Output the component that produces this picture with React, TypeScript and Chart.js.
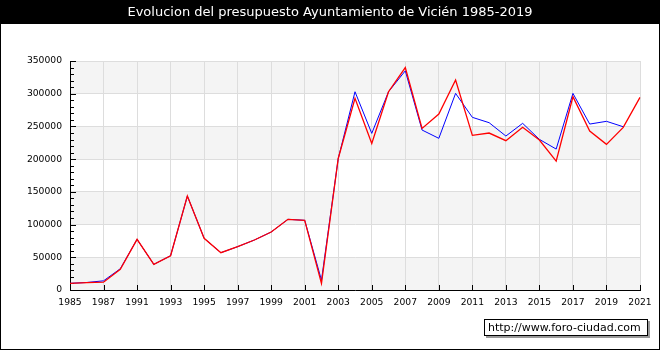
import React, { useEffect, useRef } from 'react';
import { Chart, registerables } from 'chart.js';

Chart.register(...registerables);

const TITLE = 'Evolucion del presupuesto Ayuntamiento de Vicién 1985-2019';
const WATERMARK = 'http://www.foro-ciudad.com';

const years = [
  '1985', '1986', '1987', '1989', '1991', '1992', '1993', '1994', '1995', '1996',
  '1997', '1998', '1999', '2000', '2001', '2002', '2003', '2004', '2005', '2006',
  '2007', '2008', '2009', '2010', '2011', '2012', '2013', '2014', '2015', '2016',
  '2017', '2018', '2019', '2020', '2021',
];

const seriesRed = [
  10200, 11200, 12000, 31600, 77400, 39200, 52400, 143600, 79000, 57000,
  66200, 76400, 88600, 108000, 106500, 10200, 201000, 293000, 224000, 303000,
  340000, 247000, 269000, 321000, 236400, 239900, 228200, 248600, 229200, 197100,
  295400, 243000, 222600, 248600, 294400,
];

const seriesBlue = [
  10200, 11500, 14000, 32500, 77400, 39200, 52400, 143600, 79000, 57000,
  66200, 76400, 88600, 108000, 106500, 15000, 201000, 303000, 239400, 303000,
  335000, 244500, 231800, 300500, 263900, 255700, 235300, 254700, 230200, 215400,
  300500, 253600, 257800, 249500, null,
];

const Y_MIN = 0;
const Y_MAX = 350000;
const Y_STEP = 50000;
const Y_MINOR = 10000;

const FONT = '"DejaVu Sans", sans-serif';

const framePlugin = {
  id: 'frame',
  beforeDraw(chart: any) {
    const { ctx, chartArea: a, scales } = chart;
    ctx.save();
    ctx.fillStyle = '#ffffff';
    ctx.fillRect(0, 0, chart.width, chart.height);
    const y = scales.y;
    for (let v = Y_MIN; v < Y_MAX; v += 2 * Y_STEP) {
      const top = y.getPixelForValue(v + Y_STEP);
      const bot = y.getPixelForValue(v);
      ctx.fillStyle = '#f4f4f4';
      ctx.fillRect(a.left, top, a.right - a.left, bot - top);
    }
    ctx.restore();
  },
  beforeDatasetsDraw(chart: any) {
    const { ctx, chartArea: a, scales } = chart;
    ctx.save();
    ctx.strokeStyle = '#000000';
    ctx.lineWidth = 1;
    ctx.beginPath();
    for (let v = Y_MIN; v <= Y_MAX; v += Y_MINOR) {
      const py = Math.round(scales.y.getPixelForValue(v)) + 0.5;
      const len = v % Y_STEP === 0 ? 6 : 4;
      ctx.moveTo(a.left, py);
      ctx.lineTo(a.left + len, py);
    }
    for (const t of scales.x.ticks) {
      const px = Math.round(scales.x.getPixelForValue(t.value)) + 0.5;
      ctx.moveTo(px, a.bottom);
      ctx.lineTo(px, a.bottom - 5);
    }
    ctx.stroke();
    ctx.restore();
  },
  afterDraw(chart: any) {
    const { ctx } = chart;
    const W = chart.width;
    const H = chart.height;
    ctx.save();
    // title bar
    ctx.fillStyle = '#000000';
    ctx.fillRect(0, 0, W, 24);
    ctx.fillStyle = '#ffffff';
    ctx.font = '13px ' + FONT;
    ctx.textAlign = 'center';
    ctx.textBaseline = 'middle';
    ctx.fillText(TITLE, W / 2, 13);
    // outer border
    ctx.strokeStyle = '#000000';
    ctx.lineWidth = 1;
    ctx.strokeRect(0.5, 0.5, W - 1, H - 1);
    // watermark
    const bx = 484, by = 319, bw = 164, bh = 17;
    ctx.fillStyle = '#999999';
    ctx.fillRect(bx + 2, by + 2, bw, bh);
    ctx.fillStyle = '#ffffff';
    ctx.fillRect(bx, by, bw, bh);
    ctx.strokeStyle = '#000000';
    ctx.strokeRect(bx + 0.5, by + 0.5, bw - 1, bh - 1);
    ctx.fillStyle = '#000000';
    ctx.font = '11px ' + FONT;
    ctx.textAlign = 'left';
    ctx.textBaseline = 'middle';
    ctx.fillText(WATERMARK, bx + 4, by + bh / 2 + 0.5);
    ctx.restore();
  },
};

export default function App() {
  const ref = useRef<HTMLCanvasElement | null>(null);

  useEffect(() => {
    document.body.style.margin = '0';
    const canvas = ref.current;
    if (!canvas) return;
    const chart = new Chart(canvas, {
      type: 'line',
      data: {
        labels: years,
        datasets: [
          {
            label: 'red',
            data: seriesRed,
            borderColor: '#ff0000',
            borderWidth: 1.3,
            pointRadius: 0,
            tension: 0,
            fill: false,
            order: 0,
          },
          {
            label: 'blue',
            data: seriesBlue,
            borderColor: '#0000ff',
            borderWidth: 1,
            pointRadius: 0,
            tension: 0,
            fill: false,
            order: 1,
          },
        ],
      },
      options: {
        animation: false,
        responsive: false,
        devicePixelRatio: 1,
        layout: { padding: { left: 0, top: 61, right: 20, bottom: 0 } },
        plugins: {
          legend: { display: false },
          tooltip: { enabled: false },
          title: { display: false },
        },
        scales: {
          x: {
            type: 'category',
            offset: false,
            afterBuildTicks: (scale: any) => {
              scale.ticks = scale.ticks.filter((t: any) => t.value % 2 === 0);
            },
            afterFit: (scale: any) => {
              scale.height = 60;
            },
            grid: { color: '#dddddd', drawTicks: false, lineWidth: 1 },
            border: { color: '#000000', width: 1 },
            ticks: {
              autoSkip: false,
              maxRotation: 0,
              minRotation: 0,
              padding: 7,
              color: '#000000',
              font: { family: FONT, size: 9.2 },
            },
          },
          y: {
            min: Y_MIN,
            max: Y_MAX,
            afterFit: (scale: any) => {
              scale.width = 70;
            },
            grid: { color: '#dddddd', drawTicks: false, lineWidth: 1 },
            border: { color: '#000000', width: 1 },
            ticks: {
              stepSize: Y_STEP,
              padding: 8,
              color: '#000000',
              font: { family: FONT, size: 9.2 },
              callback: (v: any) => String(v),
            },
          },
        },
      },
      plugins: [framePlugin],
    });
    return () => chart.destroy();
  }, []);

  return (
    <div style={{ width: 660, height: 350 }}>
      <canvas ref={ref} width={660} height={350} style={{ display: 'block' }} />
    </div>
  );
}
